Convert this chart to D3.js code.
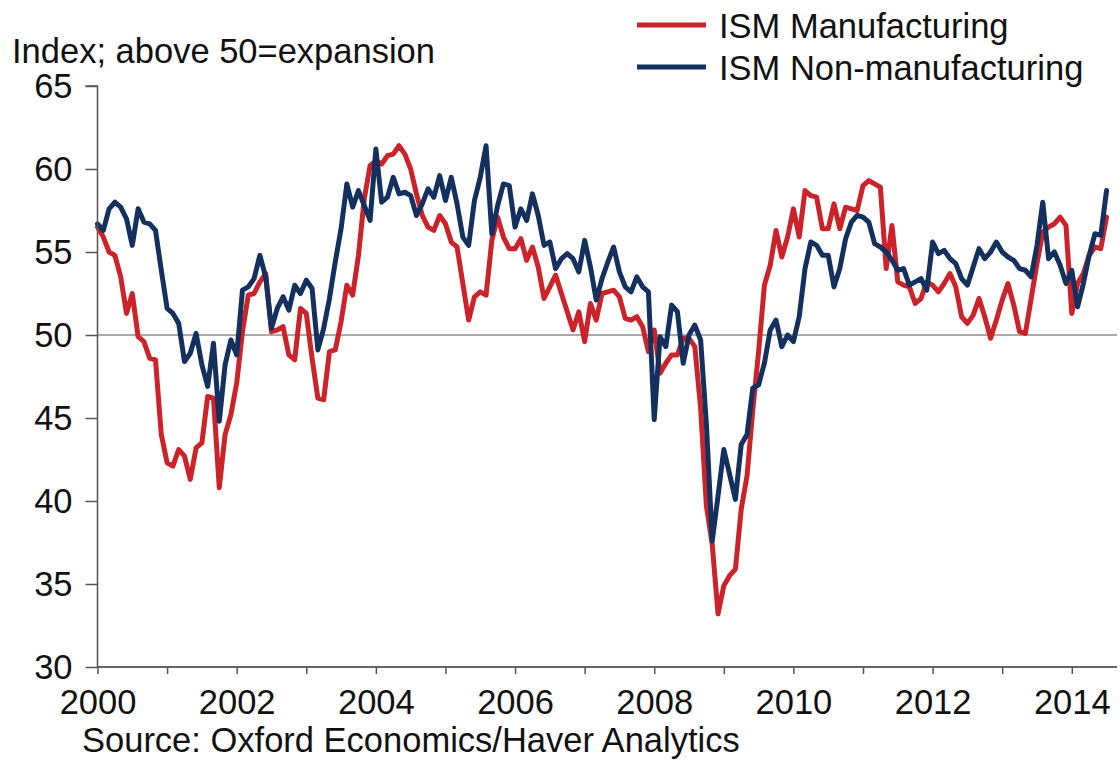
<!DOCTYPE html>
<html>
<head>
<meta charset="utf-8">
<script src="https://cdn.jsdelivr.net/npm/d3@7"></script>
<style>
  html, body { margin: 0; padding: 0; background: #ffffff; }
  svg { display: block; font-family: "Liberation Sans", Arial, sans-serif; }
</style>
</head>
<body>
<svg id="chart" width="1120" height="761"></svg>
<script>
// ---- data (monthly, Jan 2000 - Jul 2014) ----
const startYear = 2000;
const seriesNames = ["ISM Manufacturing", "ISM Non-manufacturing"];
const yTicks = [30, 35, 40, 45, 50, 55, 60, 65];
const xTickYears = [2000, 2001, 2002, 2003, 2004, 2005, 2006, 2007, 2008, 2009, 2010, 2011, 2012, 2013, 2014];
const xLabelYears = [2000, 2002, 2004, 2006, 2008, 2010, 2012, 2014];
const yTitle = "Index; above 50=expansion";
const sourceText = "Source: Oxford Economics/Haver Analytics";

const ismManufacturing = [
  56.5, 55.9, 55.0, 54.8, 53.5, 51.3, 52.5, 49.9, 49.6, 48.6, 48.5, 44.0, // 2000
  42.3, 42.1, 43.1, 42.7, 41.3, 43.2, 43.5, 46.3, 46.2, 40.8, 44.0, 45.2, // 2001
  47.1, 50.2, 52.4, 52.5, 53.2, 53.7, 50.2, 50.3, 50.5, 48.8, 48.5, 51.6, // 2002
  51.3, 48.6, 46.2, 46.1, 49.0, 49.1, 50.8, 53.0, 52.4, 54.8, 58.2, 60.2, // 2003
  60.5, 60.3, 60.8, 60.9, 61.4, 60.9, 60.0, 58.5, 57.2, 56.5, 56.3, 57.2, // 2004
  56.7, 55.6, 55.3, 53.1, 50.9, 52.3, 52.6, 52.4, 55.7, 57.1, 55.9, 55.2, // 2005
  55.2, 55.8, 54.5, 55.3, 54.1, 52.2, 52.9, 53.6, 52.5, 51.4, 50.3, 51.4, // 2006
  49.6, 51.9, 50.9, 52.5, 52.6, 52.7, 52.3, 51.0, 50.9, 51.1, 50.5, 49.0, // 2007
  50.3, 47.7, 48.3, 48.8, 48.8, 49.8, 49.8, 49.3, 45.6, 39.7, 37.4, 33.2, // 2008
  34.9, 35.5, 35.9, 39.5, 41.5, 45.5, 49.0, 53.0, 54.2, 56.3, 54.7, 55.9, // 2009
  57.6, 55.9, 58.7, 58.4, 58.3, 56.4, 56.4, 57.9, 56.4, 57.7, 57.6, 57.5, // 2010
  59.0, 59.3, 59.1, 58.9, 54.0, 56.6, 53.2, 53.0, 52.9, 51.9, 52.2, 53.2, // 2011
  53.0, 52.6, 53.1, 53.7, 52.9, 51.1, 50.7, 51.2, 52.2, 51.1, 49.8, 50.9, // 2012
  52.1, 53.1, 51.8, 50.2, 50.1, 52.2, 54.3, 56.2, 56.5, 56.7, 57.1, 56.6, // 2013
  51.3, 53.1, 53.7, 54.8, 55.3, 55.2, 57.1                                // 2014
];

const ismNonManufacturing = [
  56.7, 56.3, 57.6, 58.0, 57.7, 57.0, 55.4, 57.6, 56.8, 56.7, 56.3, 53.9, // 2000
  51.6, 51.3, 50.7, 48.4, 48.9, 50.1, 48.2, 46.9, 49.5, 44.8, 48.2, 49.7, // 2001
  48.8, 52.7, 52.9, 53.4, 54.8, 53.5, 50.4, 51.6, 52.3, 51.5, 53.0, 52.5, // 2002
  53.3, 52.8, 49.1, 50.4, 52.2, 54.4, 56.4, 59.1, 57.7, 58.7, 57.8, 56.9, // 2003
  61.2, 58.0, 58.3, 59.5, 58.5, 58.6, 58.4, 57.2, 57.9, 58.8, 58.3, 59.6, // 2004
  58.1, 59.5, 57.9, 55.9, 55.4, 58.1, 59.5, 61.4, 56.1, 57.8, 59.1, 59.0, // 2005
  56.5, 57.6, 56.9, 58.5, 57.2, 55.4, 55.6, 54.0, 54.6, 54.9, 54.6, 53.8, // 2006
  55.7, 54.1, 52.1, 53.4, 54.4, 55.3, 53.8, 52.9, 52.6, 53.5, 52.9, 52.6, // 2007
  44.9, 49.9, 49.3, 51.8, 51.4, 48.3, 50.0, 50.6, 49.7, 44.6, 37.6, 40.3, // 2008
  43.1, 41.6, 40.1, 43.4, 44.0, 46.8, 47.0, 48.3, 50.3, 50.9, 49.3, 50.0, // 2009
  49.6, 51.1, 54.0, 55.6, 55.4, 54.8, 54.8, 52.9, 54.0, 55.8, 56.8, 57.2, // 2010
  57.1, 56.8, 55.5, 55.3, 55.0, 54.5, 53.9, 54.0, 53.0, 53.2, 53.4, 52.7, // 2011
  55.6, 54.9, 55.1, 54.6, 54.3, 53.4, 53.0, 54.1, 55.2, 54.6, 55.0, 55.6, // 2012
  55.0, 54.7, 54.5, 54.0, 53.9, 53.5, 55.4, 58.0, 54.6, 55.0, 54.2, 53.1, // 2013
  53.9, 51.7, 53.1, 54.8, 56.1, 56.0, 58.7                                // 2014
];

const colors = ["#cc2229", "#13305f"];

// ---- layout ----
const svg = d3.select("#chart");
const FONT = 34.5;
const plotLeft = 97.5, plotRight = 1117, plotTop = 86, plotBottom = 667;

const x = d3.scaleLinear().domain([2000, 2014.65]).range([plotLeft, plotRight]);
const y = d3.scaleLinear().domain([30, 65]).range([plotBottom, plotTop]);

const monthX = i => startYear + i / 12;

// reference line at 50
svg.append("line")
  .attr("x1", x(2000)).attr("x2", plotRight)
  .attr("y1", y(50)).attr("y2", y(50))
  .attr("stroke", "#a9a9a9").attr("stroke-width", 2);

// series lines
const lineGen = d3.line().x((d, i) => x(monthX(i))).y(d => y(d));
[ismManufacturing, ismNonManufacturing].forEach((vals, k) => {
  svg.append("path")
    .datum(vals)
    .attr("d", lineGen)
    .attr("fill", "none")
    .attr("stroke", colors[k])
    .attr("stroke-width", 5)
    .attr("stroke-linejoin", "round")
    .attr("stroke-linecap", "round");
});

// y axis
const yAxis = svg.append("g")
  .attr("transform", `translate(${plotLeft},0)`)
  .call(d3.axisLeft(y).tickValues(yTicks).tickSize(12).tickPadding(13).tickFormat(d3.format("d")));
yAxis.select(".domain").attr("stroke", "#555").attr("stroke-width", 1.5).attr("d", `M-12,${y(65)}H0V${plotBottom}`);
yAxis.selectAll(".tick line").attr("stroke", "#555").attr("stroke-width", 1.5);
yAxis.selectAll("text").attr("font-size", FONT).attr("fill", "#111").attr("font-family", "Liberation Sans, Arial, sans-serif");

// x axis
const xAxis = svg.append("g")
  .attr("transform", `translate(0,${plotBottom})`)
  .call(d3.axisBottom(x).tickValues(xTickYears).tickSize(7).tickPadding(16)
    .tickFormat(d => xLabelYears.includes(d) ? String(d) : ""));
xAxis.select(".domain").attr("stroke", "#333").attr("stroke-width", 1.5).attr("d", `M${plotLeft},0H${plotRight}`);
xAxis.selectAll(".tick line").attr("stroke", "#555").attr("stroke-width", 1.5);
xAxis.selectAll("text").attr("font-size", FONT).attr("fill", "#111").attr("font-family", "Liberation Sans, Arial, sans-serif");

// title (y units)
svg.append("text")
  .attr("x", 12).attr("y", 63)
  .attr("font-size", FONT).attr("fill", "#111")
  .text(yTitle);

// legend
const legend = svg.append("g");
seriesNames.forEach((name, k) => {
  const ly = 25 + k * 42;
  legend.append("line")
    .attr("x1", 637).attr("x2", 706)
    .attr("y1", ly).attr("y2", ly)
    .attr("stroke", colors[k]).attr("stroke-width", 5);
  legend.append("text")
    .attr("x", 719).attr("y", ly + 12.5)
    .attr("font-size", FONT).attr("fill", "#111")
    .text(name);
});

// source
svg.append("text")
  .attr("x", 82).attr("y", 752)
  .attr("font-size", FONT).attr("fill", "#111")
  .text(sourceText);
</script>
</body>
</html>
